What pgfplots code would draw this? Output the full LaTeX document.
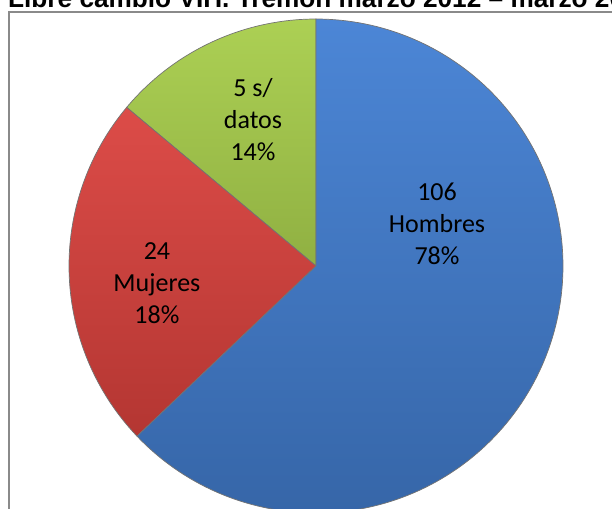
\documentclass[border=0pt]{standalone}
\usepackage{pgfplots}
\pgfplotsset{compat=1.18}
\usepackage{pgfplotstable}
\usepackage{fontspec}
\setmainfont{Liberation Sans}
\newfontfamily\labfont{Carlito}
\definecolor{blueT}{RGB}{76,134,214}
\definecolor{blueB}{RGB}{54,102,168}
\definecolor{redT}{RGB}{220,76,72}
\definecolor{redB}{RGB}{180,54,50}
\definecolor{greenT}{RGB}{172,208,84}
\definecolor{greenB}{RGB}{144,176,66}
\definecolor{frameGray}{RGB}{138,138,138}

\pgfplotstableread{
label value
Hombres 62.9
Mujeres 23.2
SinDatos 13.9
}\piedata

\begin{document}
\begin{tikzpicture}
\pgfplotstablegetelem{0}{value}\of\piedata \let\vH\pgfplotsretval
\pgfplotstablegetelem{1}{value}\of\piedata \let\vM\pgfplotsretval
\pgfplotstablegetelem{2}{value}\of\piedata \let\vS\pgfplotsretval
\pgfmathsetmacro\aA{90}
\pgfmathsetmacro\aB{90+3.6*\vS}
\pgfmathsetmacro\aC{\aB+3.6*\vM}
\pgfmathsetmacro\aD{\aC+3.6*\vH}
\path[use as bounding box] (0,0) rectangle (612bp,509bp);
\draw[line width=2bp, color=frameGray] (9bp,-20bp) -- (9bp,496.5bp) -- (640bp,496.5bp);
\node[anchor=base west, inner sep=0pt, font=\fontsize{26.2bp}{30bp}\selectfont\bfseries] at (8bp,501.5bp) {Libre cambio VIH. Tremon marzo 2012 – marzo 2013};
\begin{axis}[at={(316bp,243bp)}, anchor=center, x=247bp, y=247bp,
  xmin=-1, xmax=1, ymin=-1, ymax=1, hide axis, clip=false]
\addplot[draw=black!55, line width=0.7pt, top color=greenT, bottom color=greenB,
  domain=\aA:\aB, samples=60] ({cos(x)},{sin(x)}) -- (0,0) -- cycle;
\addplot[draw=black!55, line width=0.7pt, top color=redT, bottom color=redB,
  domain=\aB:\aC, samples=80] ({cos(x)},{sin(x)}) -- (0,0) -- cycle;
\addplot[draw=black!55, line width=0.7pt, top color=blueT, bottom color=blueB,
  domain=\aC:\aD, samples=160] ({cos(x)},{sin(x)}) -- (0,0) -- cycle;
\node[align=center, font=\labfont\fontsize{26bp}{32bp}\selectfont] at (0.49,0.17) {106\\Hombres\\78\%};
\node[align=center, font=\labfont\fontsize{26bp}{32bp}\selectfont] at (-0.644,-0.069) {24\\Mujeres\\18\%};
\node[align=center, font=\labfont\fontsize{26bp}{32bp}\selectfont] at (-0.255,0.591) {5 s/\\datos\\14\%};
\end{axis}
\end{tikzpicture}
\end{document}
